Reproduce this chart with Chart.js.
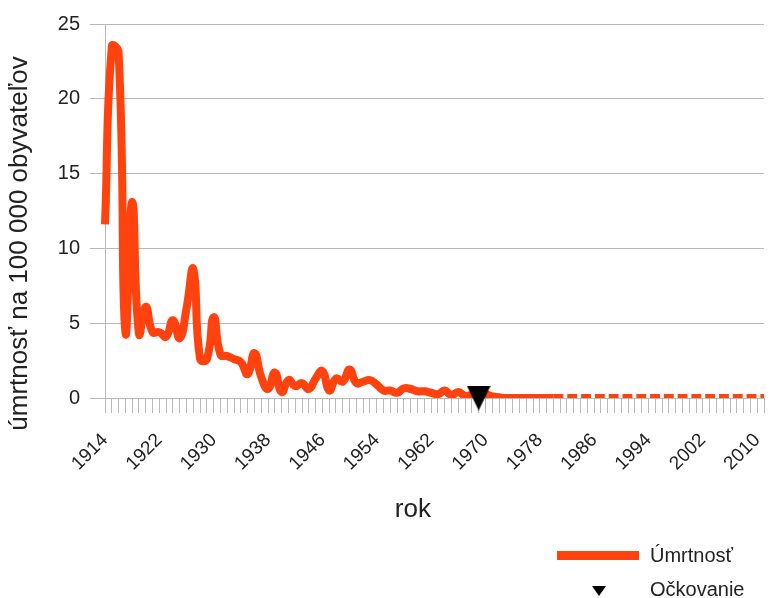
<!DOCTYPE html>
<html><head><meta charset="utf-8">
<script src="https://cdn.jsdelivr.net/npm/chart.js@4.4.1/dist/chart.umd.min.js"></script>
<style>
html,body{margin:0;padding:0;background:#fff;}
#wrap{position:relative;width:777px;height:598px;font-family:"Liberation Sans",Arial,sans-serif;color:#222;}
#c{position:absolute;left:0;top:0;}
.lg{position:absolute;font-size:20px;line-height:20px;white-space:nowrap;}
</style></head><body>
<div id="wrap">
<canvas id="c" width="777" height="598"></canvas>
<div class="lg" style="left:557px;top:551px;width:82px;height:9px;background:#ff420e;"></div>
<div class="lg" id="lg1" style="left:650px;top:545px;"></div>
<div class="lg" style="left:592px;top:586px;width:0;height:0;border-left:7.5px solid transparent;border-right:7.5px solid transparent;border-top:10px solid #000;"></div>
<div class="lg" id="lg2" style="left:650px;top:579px;"></div>
</div>
<script>
// ---- data ----
const years = [1914,1915,1916,1917,1918,1919,1920,1921,1922,1923,1924,1925,1926,1927,1928,1929,1930,1931,1932,1933,
  1934,1935,1936,1937,1938,1939,1940,1941,1942,1943,1944,1945,1946,1947,1948,1949,1950,1951,1952,1953,
  1954,1955,1956,1957,1958,1959,1960,1961,1962,1963,1964,1965,1966,1967,1968,1969,1970,1971,1972,1973,
  1974,1975,1976,1977,1978,1979,1980,1981,1982,1983,1984,1985,1986,1987,1988,1989,1990,1991,1992,1993,
  1994,1995,1996,1997,1998,1999,2000,2001,2002,2003,2004,2005,2006,2007,2008,2009,2010,2011];
const mortality = [11.6,23.5,23.1,4.4,13.1,4.3,6.1,4.4,4.4,4.1,5.2,4.0,6.0,8.6,2.6,2.6,5.4,2.9,2.8,2.6,
  2.4,1.6,3.0,1.4,0.6,1.7,0.4,1.2,0.8,1.0,0.6,1.3,1.8,0.5,1.3,1.1,1.9,1.0,1.1,1.2,
  0.9,0.5,0.5,0.35,0.65,0.6,0.45,0.45,0.35,0.25,0.5,0.2,0.4,0.15,0.2,0.15,0.25,0.1,0.05,0,
  0,0,0,0,0,0,0,0,0,0,0,0,0,0,0,0,0,0,0,0,
  0,0,0,0,0,0,0,0,0,0,0,0,0,0,0,0,0,0];
const vaccinationYears = [1969];
const vaccinationValues = [0];
const tickYears = [1914,1922,1930,1938,1946,1954,1962,1970,1978,1986,1994,2002,2010];
const dashedFromYear = 1980;
const seriesNames = ['Úmrtnosť', 'Očkovanie'];
const yTitle = 'úmrtnosť na 100 000 obyvateľov';
const xTitle = 'rok';

document.getElementById('lg1').textContent = seriesNames[0];
document.getElementById('lg2').textContent = seriesNames[1];

const vaccination = years.map(y => {
  const k = vaccinationYears.indexOf(y);
  return k >= 0 ? vaccinationValues[k] : null;
});
const dashIdx = years.indexOf(dashedFromYear);

const tri = document.createElement('canvas');
tri.width = 24; tri.height = 25;
const tc = tri.getContext('2d');
tc.fillStyle = '#000';
tc.beginPath(); tc.moveTo(0,0); tc.lineTo(24,0); tc.lineTo(12,25); tc.closePath(); tc.fill();

const NB = '\u00A0';
Chart.defaults.font.family = "'Liberation Sans', Arial, sans-serif";
Chart.defaults.color = '#222';

new Chart(document.getElementById('c'), {
  type: 'line',
  data: {
    labels: years.map(String),
    datasets: [
      {
        label: seriesNames[0],
        data: mortality,
        borderColor: '#ff420e',
        backgroundColor: '#ff420e',
        borderWidth: 8,
        pointRadius: 0,
        tension: 0.5,
        borderCapStyle: 'butt',
        borderJoinStyle: 'round',
        fill: false,
        order: 2,
        segment: {
          borderDash: ctx => ctx.p0DataIndex >= dashIdx ? [10, 3.8] : undefined
        }
      },
      {
        label: seriesNames[1],
        data: vaccination,
        showLine: false,
        pointStyle: tri,
        pointRadius: 12,
        borderColor: '#000',
        backgroundColor: '#000',
        clip: false,
        order: 1
      }
    ]
  },
  options: {
    responsive: false,
    devicePixelRatio: 1,
    animation: false,
    layout: { padding: { left: 0, top: 24, right: 2, bottom: 68 } },
    plugins: { legend: { display: false }, tooltip: { enabled: false } },
    scales: {
      x: {
        type: 'category',
        offset: false,
        grid: { display: true, drawOnChartArea: false, drawTicks: true, tickLength: 15, color: '#b8b8b8', lineWidth: 1 },
        border: { display: true, color: '#b8b8b8' },
        ticks: {
          autoSkip: false, minRotation: 45, maxRotation: 45, padding: 16,
          font: { size: 19 }, color: '#222',
          callback: function(v) {
            const y = Number(this.getLabelForValue(v));
            return tickYears.includes(y) ? String(y) : '';
          }
        },
        title: { display: true, text: xTitle + NB.repeat(6), font: { size: 26 }, color: '#222', padding: { top: 4, bottom: 5 } },
        afterFit: s => { s.height = 132; s.paddingLeft = 0; s.paddingRight = 0; }
      },
      y: {
        min: 0, max: 25,
        ticks: { stepSize: 5, padding: 10, font: { size: 20 }, color: '#222' },
        grid: { color: '#b8b8b8', tickLength: 15, lineWidth: 1 },
        border: { display: true, color: '#b8b8b8' },
        title: { display: true, text: yTitle + NB.repeat(9), font: { size: 26 }, color: '#222', padding: { top: 4, bottom: 4 } },
        afterFit: s => { s.width = 105; }
      }
    }
  }
});
</script>
</body></html>
